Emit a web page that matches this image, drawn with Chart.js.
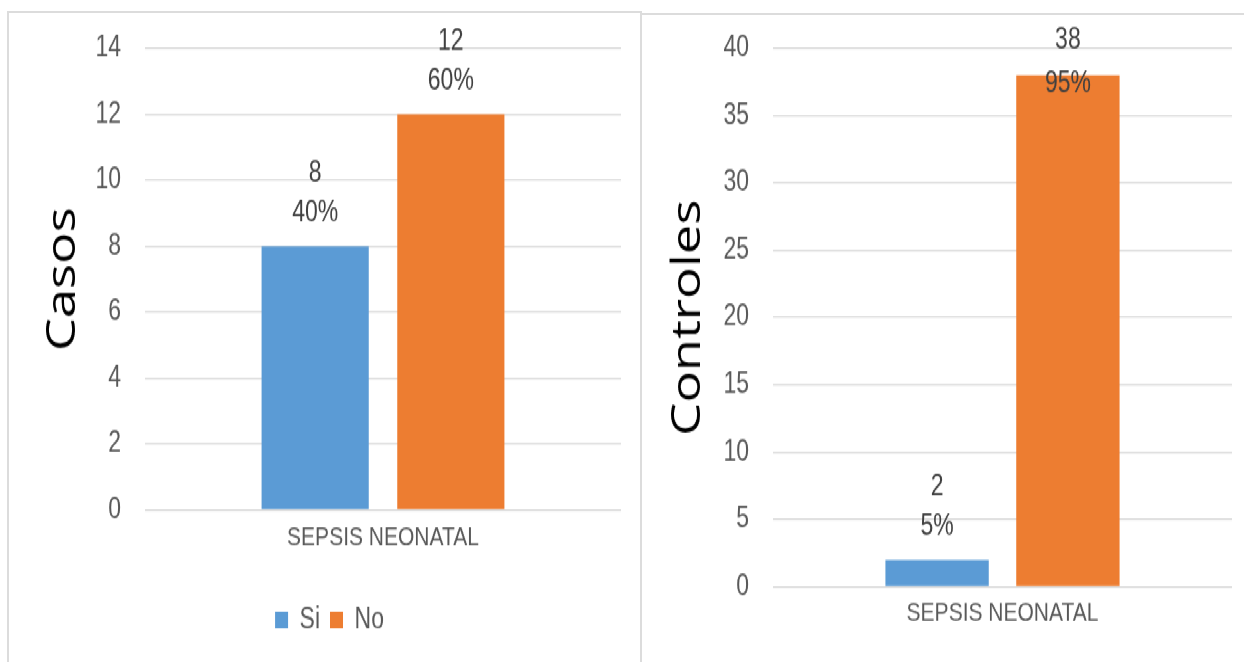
<!DOCTYPE html>
<html>
<head>
<meta charset="utf-8">
<script src="https://cdn.jsdelivr.net/npm/chart.js@4/dist/chart.umd.min.js"></script>
<style>
  html, body { margin: 0; padding: 0; background: #fff; }
  body { width: 1244px; height: 662px; position: relative; overflow: hidden; }
  .panel { position: absolute; border: 2px solid #dcdcdc; border-right: none; border-bottom: none; background: #fff; }
  #panelCasos { left: 7px; top: 11px; width: 631px; height: 700px; border-right: 2px solid #dcdcdc; }
  #panelControles { left: 640px; top: 13px; width: 620px; height: 700px; }
  /* charts are drawn on a shorter stage and stretched vertically */
  #stage { position: absolute; left: 0; top: 0; width: 1244px; height: 517px; transform: scaleY(1.28); transform-origin: 0 0; }
  .wrap { position: absolute; top: 0; height: 517px; }
  #wrapCasos { left: 0; width: 640px; }
  #wrapControles { left: 641px; width: 603px; }
</style>
</head>
<body>
<div class="panel" id="panelCasos"></div>
<div class="panel" id="panelControles"></div>
<div id="stage">
  <div class="wrap" id="wrapCasos"><canvas id="casosChart"></canvas></div>
  <div class="wrap" id="wrapControles"><canvas id="controlesChart"></canvas></div>
</div>
<script>
// Sepsis neonatal: casos vs controles
const categories = ['SEPSIS NEONATAL'];
const seriesNames = ['Si', 'No'];
const casosValues = [8, 12];
const controlesValues = [2, 38];
const casosTicks = { max: 14, step: 2 };
const controlesTicks = { max: 40, step: 5 };

const BLUE = '#5b9bd5';
const ORANGE = '#ed7d31';
const GRID = '#d9d9d9';
const TICK = '#595959';
const FONT = '"Liberation Sans", Arial, sans-serif';
const TITLE_FONT = '"Open Sans", "Noto Sans", sans-serif';

// value + percentage over each bar, pushed down when it hits the top of the plot
const barLabels = {
  id: 'barLabels',
  afterDatasetsDraw(chart) {
    const ctx = chart.ctx;
    const area = chart.chartArea;
    const total = chart.data.datasets.reduce((a, d) => a + d.data[0], 0);
    ctx.save();
    ctx.font = '23px ' + FONT;
    ctx.fillStyle = '#404040';
    ctx.textAlign = 'center';
    ctx.textBaseline = 'middle';
    chart.data.datasets.forEach((ds, i) => {
      chart.getDatasetMeta(i).data.forEach((bar, j) => {
        const v = ds.data[j];
        const pct = Math.round(v / total * 100) + '%';
        let y1 = bar.y - 57, y2 = bar.y - 26;
        if (y1 < area.top - 6) { y1 = area.top - 6; y2 = y1 + 33.5; }
        ctx.fillText(String(v), bar.x, y1);
        ctx.fillText(pct, bar.x, y2);
      });
    });
    ctx.restore();
  }
};

function makeChart(id, values, ticks, title, opts) {
  return new Chart(document.getElementById(id), {
    type: 'bar',
    data: {
      labels: categories,
      datasets: seriesNames.map((name, i) => ({
        label: name,
        data: [values[i]],
        backgroundColor: i === 0 ? BLUE : ORANGE,
        categoryPercentage: 0.57,
        barPercentage: 0.79
      }))
    },
    options: {
      responsive: true, maintainAspectRatio: false, animation: false,
      layout: { padding: opts.padding },
      plugins: {
        tooltip: { enabled: false },
        legend: {
          display: opts.legend,
          position: 'bottom',
          labels: { font: { size: 23, family: FONT }, color: TICK, boxWidth: 13, boxHeight: 13, padding: 10 }
        }
      },
      scales: {
        x: {
          grid: { display: false, drawTicks: false },
          border: { display: false },
          ticks: { font: { size: 21, family: FONT }, color: TICK, padding: opts.xPad },
          afterFit: s => { s.height = opts.xHeight; }
        },
        y: {
          min: 0, max: ticks.max,
          grid: { color: GRID, lineWidth: 1.3, drawTicks: false },
          border: { display: false },
          ticks: { stepSize: ticks.step, font: { size: 23, family: FONT }, color: TICK, padding: 24 },
          title: {
            display: true, text: title, color: '#000',
            font: { size: 41, family: TITLE_FONT },
            padding: { top: opts.titlePad, bottom: 0 }
          },
          afterFit: s => { s.width = opts.yWidth; }
        }
      }
    },
    plugins: [barLabels]
  });
}

makeChart('casosChart', casosValues, casosTicks, 'Casos', {
  padding: { top: 36, right: 19, bottom: 11, left: 38 },
  legend: true, xHeight: 64.5, xPad: 9, yWidth: 107, titlePad: 1
});
makeChart('controlesChart', controlesValues, controlesTicks, 'Controles', {
  padding: { top: 37.5, right: 12, bottom: 0, left: 0 },
  legend: false, xHeight: 58.5, xPad: 8, yWidth: 132, titlePad: 23
});
</script>
</body>
</html>
